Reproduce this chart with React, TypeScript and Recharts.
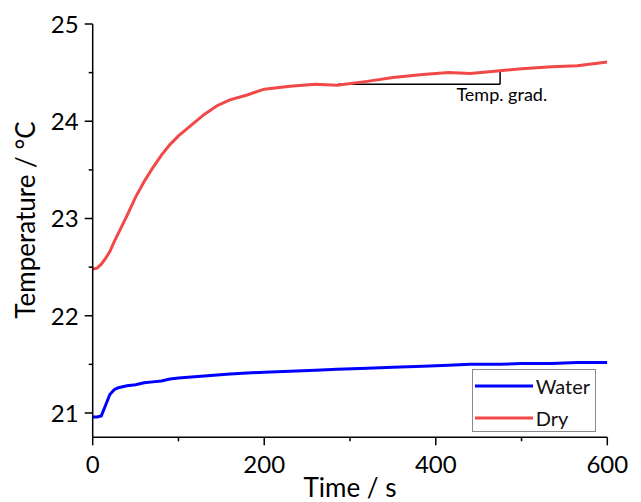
import React from "react";
import {
  LineChart,
  Line,
  XAxis,
  YAxis,
  ReferenceLine,
  ReferenceDot,
  Legend,
} from "recharts";

// ---- data ----
const times = [0, 5, 10, 15, 20, 25, 30, 40, 50, 60, 70, 80, 90, 100, 115, 130, 145, 160, 180, 200, 230, 260, 285, 320, 350, 385, 415, 440, 475, 500, 535, 565, 600];
const dryTemps = [22.48, 22.49, 22.53, 22.59, 22.66, 22.76, 22.85, 23.03, 23.22, 23.38, 23.52, 23.65, 23.76, 23.85, 23.96, 24.07, 24.16, 24.22, 24.27, 24.33, 24.36, 24.38, 24.37, 24.41, 24.45, 24.48, 24.5, 24.49, 24.52, 24.54, 24.56, 24.57, 24.61];
const waterTemps = [20.96, 20.96, 20.97, 21.08, 21.19, 21.24, 21.26, 21.28, 21.29, 21.31, 21.32, 21.33, 21.35, 21.36, 21.37, 21.38, 21.39, 21.4, 21.41, 21.42, 21.43, 21.44, 21.45, 21.46, 21.47, 21.48, 21.49, 21.5, 21.5, 21.51, 21.51, 21.52, 21.52];

const xTicks = [0, 100, 200, 300, 400, 500, 600];
const yTicks = [21, 21.5, 22, 22.5, 23, 23.5, 24, 24.5, 25];
const xDomain = [0, 600];
const yDomain = [20.75, 25];

const seriesNames = { water: "Water", dry: "Dry" };
const gradStart = { t: 286, v: 24.38 };
const gradEnd = { t: 475, v: 24.52 };
const gradLabel = { t: 477, v: 24.27, text: "Temp. grad." };

const xTitle = "Time / s";
const yTitle = "Temperature / °C";

const data = times.map((t, i) => ({ t, water: waterTemps[i], dry: dryTemps[i] }));

const FONT = "Lato, 'Open Sans', sans-serif";
const BLUE = "#0000ff";
const RED = "#f24848";

const isMajorX = (v: number) => v % 200 === 0;
const isMajorY = (v: number) => Number.isInteger(v);

const BottomTick = (p: any) => {
  const { x, y, payload } = p;
  const major = isMajorX(payload.value);
  return (
    <g>
      <line x1={x} x2={x} y1={y} y2={y + (major ? 8 : 4)} stroke="#000" strokeWidth={1.5} />
      {major && (
        <text x={x} y={y + 35.5} textAnchor="middle" fontSize={24} fontFamily={FONT} fill="#000">
          {payload.value}
        </text>
      )}
    </g>
  );
};

const TopTick = (p: any) => {
  const { x, y, payload } = p;
  const major = isMajorX(payload.value);
  return <line x1={x} x2={x} y1={y} y2={y + (major ? 8 : 4)} stroke="#000" strokeWidth={1.5} />;
};

const LeftTick = (p: any) => {
  const { x, y, payload } = p;
  const major = isMajorY(payload.value);
  return (
    <g>
      <line x1={x} x2={x - (major ? 8 : 4)} y1={y} y2={y} stroke="#000" strokeWidth={1.5} />
      {major && (
        <text x={x - 14} y={y + 8.8} textAnchor="end" fontSize={24} fontFamily={FONT} fill="#000">
          {payload.value}
        </text>
      )}
    </g>
  );
};

const RightTick = (p: any) => {
  const { x, y, payload } = p;
  const major = isMajorY(payload.value);
  return <line x1={x} x2={x - (major ? 8 : 4)} y1={y} y2={y} stroke="#000" strokeWidth={1.5} />;
};

const LegendBox = (props: any) => {
  const payload = (props.payload || []).filter((e: any) => e.dataKey === "water" || e.dataKey === "dry");
  return (
    <div
      style={{
        width: 122,
        height: 61,
        border: "1.5px solid #8a8a8a",
        background: "#fff",
        position: "relative",
        fontFamily: FONT,
        fontSize: 20,
      }}
    >
      {payload.map((e: any, i: number) => (
        <div
          key={e.value}
          style={{ position: "absolute", left: 0, top: 4 + i * 31.5, height: 24, display: "flex", alignItems: "center" }}
        >
          <svg width={63} height={24}>
            <line x1={2} x2={60} y1={12} y2={12} stroke={e.color} strokeWidth={3} />
          </svg>
          <span style={{ color: "#111", lineHeight: "24px" }}>{e.value}</span>
        </div>
      ))}
    </div>
  );
};

export default function App() {
  return (
    <div style={{ position: "absolute", left: 0, top: 0, width: 641, height: 502, background: "#fff" }}>
      <LineChart width={641} height={502} data={data} margin={{ top: 24, right: 33.7, left: 0, bottom: 0 }}>
        <XAxis
          dataKey="t"
          type="number"
          domain={xDomain}
          ticks={xTicks}
          interval={0}
          height={64.7}
          tickSize={0}
          tickMargin={0}
          tickLine={false}
          tick={BottomTick}
          axisLine={{ stroke: "#000", strokeWidth: 1.5 }}
          allowDataOverflow
          label={{
            content: () => (
              <text x={350} y={497} textAnchor="middle" fontSize={26} fontFamily={FONT} fill="#000">
                {xTitle}
              </text>
            ),
          }}
        />
        <XAxis
          xAxisId="top"
          dataKey="t"
          orientation="top"
          type="number"
          domain={xDomain}
          ticks={xTicks}
          interval={0}
          height={0}
          tickSize={0}
          tickMargin={0}
          tickLine={false}
          tick={TopTick}
          axisLine={{ stroke: "#000", strokeWidth: 1.5 }}
        />
        <YAxis
          type="number"
          domain={yDomain}
          ticks={yTicks}
          interval={0}
          width={92.7}
          tickSize={0}
          tickMargin={0}
          tickLine={false}
          tick={LeftTick}
          axisLine={{ stroke: "#000", strokeWidth: 1.5 }}
          allowDataOverflow
          label={{
            content: () => (
              <text
                x={35}
                y={220}
                transform="rotate(-90 35 220)"
                textAnchor="middle"
                fontSize={26}
                fontFamily={FONT}
                fill="#000"
              >
                {yTitle}
              </text>
            ),
          }}
        />
        <YAxis
          yAxisId="right"
          orientation="right"
          type="number"
          domain={yDomain}
          ticks={yTicks}
          interval={0}
          width={0}
          tickSize={0}
          tickMargin={0}
          tickLine={false}
          tick={RightTick}
          axisLine={{ stroke: "#000", strokeWidth: 1.5 }}
        />
        <ReferenceLine
          segment={[
            { x: gradStart.t, y: gradStart.v },
            { x: gradEnd.t, y: gradStart.v },
          ]}
          stroke="#000"
          strokeWidth={1.5}
        />
        <ReferenceLine
          segment={[
            { x: gradEnd.t, y: gradStart.v },
            { x: gradEnd.t, y: gradEnd.v },
          ]}
          stroke="#000"
          strokeWidth={1.5}
        />
        <ReferenceDot
          x={gradLabel.t}
          y={gradLabel.v}
          r={0}
          stroke="none"
          fill="none"
          label={{ value: gradLabel.text, position: "center", fontSize: 18, fill: "#000", fontFamily: FONT }}
        />
        <Line
          dataKey="dry"
          name={seriesNames.dry}
          stroke={RED}
          strokeWidth={3}
          dot={false}
          isAnimationActive={false}
        />
        <Line
          dataKey="water"
          name={seriesNames.water}
          stroke={BLUE}
          strokeWidth={3}
          dot={false}
          isAnimationActive={false}
        />
        <Legend
          content={LegendBox}
          layout="horizontal"
          verticalAlign="middle"
          align="center"
          itemSorter={(e: any) => (e.dataKey === "water" ? 0 : 1)}
          wrapperStyle={{ position: "absolute", left: 471.7, top: 369.3, width: "auto", bottom: "auto", right: "auto" }}
        />
      </LineChart>
    </div>
  );
}
